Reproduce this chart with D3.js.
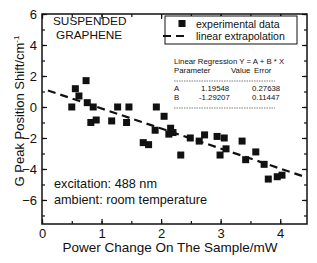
<!DOCTYPE html>
<html>
<head>
<meta charset="utf-8">
<script src="https://cdn.jsdelivr.net/npm/d3@7"></script>
<style>
  body { margin: 0; background: #fff; }
  svg text { font-family: 'Liberation Sans', Arial, sans-serif; fill: #111; }
</style>
</head>
<body>
<div class="canvas"></div>
<script>
// experimental data (power change mW, G peak shift cm-1)
const powerX = [0.50, 0.56, 0.62, 0.74, 0.76, 0.86, 0.82, 0.91, 1.17, 1.27, 1.46, 1.42,
  1.70, 1.79, 1.92, 2.05, 1.90, 2.13, 2.20, 2.16, 2.33, 2.49, 2.64, 2.73, 2.94, 3.06,
  2.99, 3.09, 3.36, 3.42, 3.59, 3.73, 3.80, 3.95, 4.03];
const shiftY = [0.0, 1.18, 0.71, 1.7, 0.28, 0.0, -1.0, -0.84, -0.9, 0.0, 0.0, -1.0,
  -2.3, -2.43, 0.0, -0.6, -1.5, -1.75, -1.65, -1.37, -3.1, -2.0, -2.2, -1.8, -1.9, -2.0,
  -3.1, -2.7, -2.2, -3.4, -2.9, -3.7, -4.65, -4.5, -4.4];

const fitA = 1.19548;
const fitB = -1.29207;
const fitRange = [0.1, 4.4];

const xTicks = [0, 1, 2, 3, 4];
const yTicks = [-6, -4, -2, 0, 2, 4, 6];

const regrRows = [
  ['A', '1.19548', '0.27638'],
  ['B', '-1.29207', '0.11447'],
];

const W = 317, H = 263;
const margin = { top: 14, right: 10, bottom: 39, left: 42 };
const gw = W - margin.left - margin.right;
const gh = H - margin.top - margin.bottom;

const svg = d3.select('.canvas').append('svg').attr('width', W).attr('height', H);
const g = svg.append('g').attr('transform', `translate(${margin.left},${margin.top})`);

const x = d3.scaleLinear().domain([0, 4.45]).range([0, gw]);
const y = d3.scaleLinear().domain([-7.55, 6]).range([gh, 0]);

//axes with inward ticks
const majorLen = 5, minorLen = 3;
const xMinor = d3.range(0, 4.45, 0.5);
const yMinor = d3.range(-7, 6.01, 1);

const bottom = g.append('g').attr('transform', `translate(0,${gh})`)
  .call(d3.axisBottom(x).tickValues(xTicks).tickSize(-majorLen).tickPadding(5).tickFormat(d3.format('d')));
g.append('g').attr('transform', `translate(0,${gh})`)
  .call(d3.axisBottom(x).tickValues(xMinor).tickSize(-minorLen).tickFormat(''));
g.append('g').call(d3.axisTop(x).tickValues(xTicks).tickSize(-majorLen).tickFormat(''));
g.append('g').call(d3.axisTop(x).tickValues(xMinor).tickSize(-minorLen).tickFormat(''));

const left = g.append('g')
  .call(d3.axisLeft(y).tickValues(yTicks).tickSize(-majorLen).tickPadding(5).tickFormat(d3.format('d')));
g.append('g').call(d3.axisLeft(y).tickValues(yMinor).tickSize(-minorLen).tickFormat(''));
g.append('g').attr('transform', `translate(${gw},0)`)
  .call(d3.axisRight(y).tickValues(yTicks).tickSize(-majorLen).tickFormat(''));
g.append('g').attr('transform', `translate(${gw},0)`)
  .call(d3.axisRight(y).tickValues(yMinor).tickSize(-minorLen).tickFormat(''));

g.selectAll('.domain').remove();
g.selectAll('.tick line').attr('stroke', '#111').attr('stroke-width', 1.2);
bottom.selectAll('text').attr('font-size', 13).attr('fill', '#111');
left.selectAll('text').attr('font-size', 13).attr('fill', '#111');

g.append('rect').attr('width', gw).attr('height', gh)
  .attr('fill', 'none').attr('stroke', '#111').attr('stroke-width', 1.5);

//fit line
const fitData = fitRange.map((v) => ({ x: v, y: fitA + fitB * v }));
const line = d3.line().x((d) => x(d.x)).y((d) => y(d.y));
g.append('path').datum(fitData).attr('d', line)
  .attr('fill', 'none').attr('stroke', '#111').attr('stroke-width', 2.2)
  .attr('stroke-dasharray', '8,5');

//points
const pts = powerX.map((v, i) => ({ x: v, y: shiftY[i] }));
const s = 7;
g.selectAll('rect.pt').data(pts).enter().append('rect').attr('class', 'pt')
  .attr('x', (d) => x(d.x) - s / 2).attr('y', (d) => y(d.y) - s / 2)
  .attr('width', s).attr('height', s).attr('fill', '#111');

//annotations
const ann = svg.append('g');
ann.append('text').attr('x', 53).attr('y', 25).attr('font-size', 11.8).text('SUSPENDED');
ann.append('text').attr('x', 56).attr('y', 38.5).attr('font-size', 11.8).text('GRAPHENE');
ann.append('text').attr('x', 54).attr('y', 188).attr('font-size', 12.7).text('excitation: 488 nm');
ann.append('text').attr('x', 54).attr('y', 204).attr('font-size', 12.7).text('ambient: room temperature');

//legend
const lg = svg.append('g');
lg.append('rect').attr('x', 165).attr('y', 16).attr('width', 132).attr('height', 28)
  .attr('fill', '#fff').attr('stroke', '#111').attr('stroke-width', 1);
lg.append('rect').attr('x', 178.5).attr('y', 20).attr('width', 7).attr('height', 7).attr('fill', '#111');
lg.append('text').attr('x', 196).attr('y', 27.5).attr('font-size', 10.5).text('experimental data');
lg.append('line').attr('x1', 163).attr('x2', 188).attr('y1', 36).attr('y2', 36)
  .attr('stroke', '#111').attr('stroke-width', 2.2).attr('stroke-dasharray', '8,5');
lg.append('text').attr('x', 196).attr('y', 40).attr('font-size', 10.5).text('linear extrapolation');

//regression table
const rt = svg.append('g');
const fs = 7.8;
rt.append('text').attr('x', 174).attr('y', 64).attr('font-size', fs).text('Linear Regression Y = A + B * X');
rt.append('text').attr('x', 174).attr('y', 73).attr('font-size', fs).text('Parameter');
rt.append('text').attr('x', 231).attr('y', 73).attr('font-size', fs).text('Value');
rt.append('text').attr('x', 254).attr('y', 73).attr('font-size', fs).text('Error');
const colX = [174, 199, 252];
regrRows.forEach((r, i) => {
  r.forEach((t, j) => {
    rt.append('text').attr('x', colX[j] + (j === 1 && t[0] !== '-' ? 2 : 0))
      .attr('y', 91 + i * 8.5).attr('font-size', fs).text(t);
  });
});
[81, 108].forEach((yy) => {
  rt.append('line').attr('x1', 174).attr('x2', 275).attr('y1', yy).attr('y2', yy)
    .attr('stroke', '#444').attr('stroke-width', 0.7).attr('stroke-dasharray', '1.5,1');
});

//axis titles
svg.append('text').attr('x', 170).attr('y', 252)
  .attr('text-anchor', 'middle').attr('font-size', 13.5).text('Power Change On The Sample/mW');
const yl = svg.append('text').attr('transform', 'translate(24,111) rotate(-90)')
  .attr('text-anchor', 'middle').attr('font-size', 13);
yl.append('tspan').text('G Peak Position Shift/cm');
yl.append('tspan').attr('font-size', 8).attr('dy', -5).text('-1');
</script>
</body>
</html>
